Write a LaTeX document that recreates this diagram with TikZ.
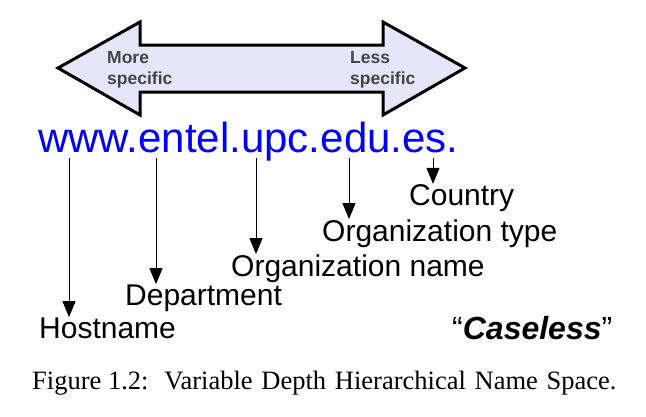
\documentclass[tikz,border=0pt]{standalone}
\usepackage{fontspec}
\setmainfont{Liberation Sans}
\newfontfamily\capfont{Liberation Serif}
\usetikzlibrary{arrows.meta}
\definecolor{arrowfill}{HTML}{E6E6FA}
\definecolor{labgray}{HTML}{444444}
\definecolor{urlblue}{HTML}{0000FF}
\tikzset{
  bigarrow/.style={draw=black, line width=3pt, fill=arrowfill, line join=miter},
  dirlabel/.style={anchor=north west, inner sep=0pt, align=left, text=labgray,
     font=\fontsize{17.5}{21.5}\selectfont\bfseries},
  partlabel/.style={anchor=base west, inner sep=0pt, font=\fontsize{30}{30}\selectfont},
  pointer/.style={line width=1pt, -{Triangle[length=16pt,width=13pt]}},
}
\begin{document}
\begin{tikzpicture}[x=1pt,y=-1pt]
\useasboundingbox (0,0) rectangle (646,416);
% double arrow
\draw[bigarrow] (58,68) -- (140,22) -- (140,45) -- (383,45) -- (383,22) -- (465,68)
   -- (383,115) -- (383,92) -- (140,92) -- (140,115) -- cycle;
\node[dirlabel] (more) at (107,51) {More\\specific};
\node[dirlabel] (less) at (350,51) {Less\\specific};
% URL
\node[anchor=base west, inner sep=0pt, text=urlblue, font=\fontsize{42}{42}\selectfont] (url) at (38,152) {www.entel.upc.edu.es.};
% labels
\node[partlabel] (host) at (39,338) {Hostname};
\node[partlabel] (dept) at (125,305) {Department};
\node[partlabel] (oname) at (231,276) {Organization name};
\node[partlabel] (otype) at (322,241) {Organization type};
\node[partlabel] (country) at (409,205) {Country};
% connector starts
\coordinate (h0) at (69,158);
\coordinate (d0) at (156,158);
\coordinate (n0) at (256,158);
\coordinate (t0) at (349,158);
\coordinate (c0) at (433,158);
\draw[pointer] (h0) -- (h0 |- host.north);
\draw[pointer] (d0) -- (d0 |- dept.north);
\draw[pointer] (n0) -- (n0 |- oname.north);
\draw[pointer] (t0) -- (t0 |- otype.north);
\draw[pointer] (c0) -- (c0 |- country.north);
% caseless
\node[anchor=base west, inner sep=0pt, font=\fontsize{32}{32}\selectfont] (caseless) at (452,339) {``\textbf{\textit{Caseless}}''};
% caption
\node[anchor=base west, inner sep=0pt, font=\capfont\fontsize{26.5}{26.5}\selectfont] (cap) at (32,389) {Figure 1.2:\hspace{0.6em}Variable\hspace{0.33em}Depth\hspace{0.33em}Hierarchical\hspace{0.33em}Name\hspace{0.33em}Space.};
\end{tikzpicture}
\end{document}
